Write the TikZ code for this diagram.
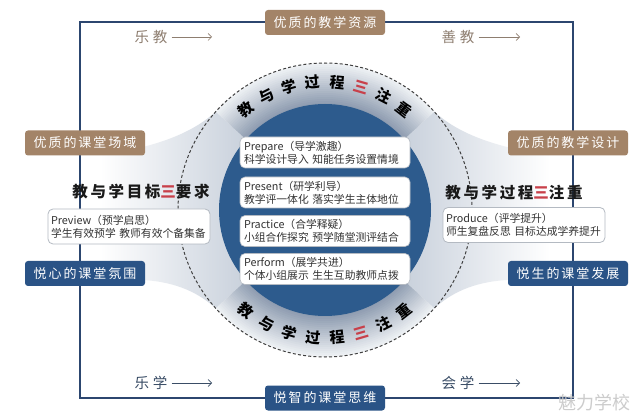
\documentclass[tikz,border=0pt]{standalone}
\usepackage{fontspec}
\setmainfont{Noto Sans CJK SC}
\newfontfamily\spfont[LetterSpace=15]{Noto Sans CJK SC}
\newfontfamily\ttlfont[LetterSpace=17]{Noto Sans CJK SC}
\newfontfamily\arrfont[LetterSpace=25]{Noto Sans CJK SC}
\usetikzlibrary{arrows.meta}
\definecolor{brownbox}{HTML}{A38468}
\definecolor{navybox}{HTML}{2A5386}
\definecolor{framec}{HTML}{2C466F}
\definecolor{bluec}{HTML}{2D5B8D}
\definecolor{tred}{HTML}{C8404A}
\definecolor{arrtop}{HTML}{8E7E70}
\definecolor{arrbot}{HTML}{3A4D66}
\definecolor{bandin}{HTML}{8E9CB0}
\definecolor{bandout}{HTML}{EEF1F4}
\definecolor{fanc}{HTML}{C9D1DC}
\definecolor{boxborder}{HTML}{B4BAC2}
\tikzset{
  labbox/.style={rounded corners=3pt, minimum width=120pt, minimum height=25pt, inner sep=0pt,
     text=white, font=\fontsize{13}{13}\selectfont\spfont},
  brownlab/.style={labbox, fill=brownbox},
  navylab/.style={labbox, fill=navybox},
  stepbox/.style={rounded corners=5pt, fill=white, draw=boxborder, line width=0.6pt,
     minimum width=170pt, minimum height=31pt, text width=162pt, align=left, inner sep=2.5pt,
     font=\fontsize{10.8}{13}\selectfont, text=black!80},
  sidebox/.style={stepbox, minimum width=162pt, text width=156pt, minimum height=35pt, line width=0.8pt},
  arcch/.style={font=\fontsize{15}{15}\selectfont\bfseries, text=black, inner sep=0pt},
  ttl/.style={font=\fontsize{15.5}{16}\selectfont\bfseries\ttlfont, text=black!90, inner sep=0pt},
  arrlab/.style={font=\fontsize{14.5}{15}\selectfont\arrfont, inner sep=0pt},
  arr/.style={line width=0.7pt, -{Straight Barb[length=3.5pt,width=7pt]}},
}
\begin{document}
\begin{tikzpicture}[x=1pt,y=1pt]
\useasboundingbox (0,0) rectangle (640,418);
\fill[white] (0,0) rectangle (640,418);
\coordinate (c) at (325,208);

% outer frame
\draw[framec, line width=2.8pt] (80,20) rectangle (573,396);

% light fans
\shade[left color=white, right color=fanc] (100,270) -- (143,271) .. controls (178,280) and (200,292) .. (215.8,306.4)
   -- (245,306.4) -- (245,109.6) -- (215.8,109.6) .. controls (200,124) and (178,136) .. (143,138) -- (100,138) -- cycle;
\shade[right color=white, left color=fanc] (550,270) -- (507,271) .. controls (472,280) and (450,292) .. (434.2,306.4)
   -- (405,306.4) -- (405,109.6) -- (434.2,109.6) .. controls (450,124) and (472,136) .. (507,138) -- (550,138) -- cycle;

% gray bands
\foreach \i in {0,...,20} {
  \pgfmathsetmacro\rr{147-\i*2}
  \pgfmathtruncatemacro\pp{\i*5}
  \fill[bandin!\pp!bandout] (c) -- ([shift={(42:\rr)}]c) arc[start angle=42,end angle=138,radius=\rr] -- cycle;
  \fill[bandin!\pp!bandout] (c) -- ([shift={(222:\rr)}]c) arc[start angle=222,end angle=318,radius=\rr] -- cycle;
}

% blue disc
\fill[bluec] (c) circle[radius=106];

% dashed circle
\draw[black!75, line width=1pt, dash pattern=on 3pt off 2.2pt] (c) circle[radius=147];

% arc texts
\foreach \ch [count=\k from 0] in {教,与,学,过,程,\textcolor{tred}{三},注,重} {
  \pgfmathsetmacro\ang{128-\k*76/7}
  \node[arcch, rotate=\ang-90] (tt\k) at ([shift={(\ang:128)}]c) {\ch};
}
\foreach \ch [count=\k from 0] in {教,与,学,过,程,\textcolor{tred}{三},注,重} {
  \pgfmathsetmacro\ang{232+\k*76/7}
  \node[arcch, rotate=\ang+90] (tb\k) at ([shift={(\ang:128)}]c) {\ch};
}

% center step boxes
\node[stepbox] (s1) at (325,265.5) {Prepare（导学激趣）\\科学设计导入 知能任务设置情境};
\node[stepbox] (s2) at (325,225.5) {Present（研学利导）\\教学评一体化 落实学生主体地位};
\node[stepbox] (s3) at (325,187) {Practice（合学释疑）\\小组合作探究 预学随堂测评结合};
\node[stepbox] (s4) at (325,149) {Perform（展学共进）\\个体小组展示 生生互助教师点拨};

% side titles and boxes
\node[ttl] (lt) at (141,226) {教与学目标\textcolor{tred}{三}要求};
\node[ttl] (rt) at (514,225) {教与学过程\textcolor{tred}{三}注重};
\node[sidebox] (pv) at (129,191.5) {Preview（预学启思）\\学生有效预学 教师有效个备集备};
\node[sidebox] (pd) at (524,193) {Produce（评学提升）\\师生复盘反思 目标达成学养提升};

% label boxes
\node[brownlab] (b1) at (325,395.5) {优质的教学资源};
\node[navylab] (b2) at (325,20) {悦智的课堂思维};
\node[brownlab] (b3) at (85,275) {优质的课堂场域};
\node[navylab] (b4) at (85,144.5) {悦心的课堂氛围};
\node[brownlab] (b5) at (568,275) {优质的教学设计};
\node[navylab] (b6) at (568,144.5) {悦生的课堂发展};

% arrow labels
\node[arrlab, text=arrtop] (l1) at (151,381) {乐教};
\node[arrlab, text=arrtop] (l2) at (458,381) {善教};
\node[arrlab, text=arrbot] (l3) at (151,35) {乐学};
\node[arrlab, text=arrbot] (l4) at (458,35) {会学};
\coordinate (e1) at (212,381);
\coordinate (e2) at (520,381);
\coordinate (e3) at (212,35);
\coordinate (e4) at (520,35);
\draw[arr, arrtop] ([xshift=4pt]l1.east) -- (e1);
\draw[arr, arrtop] ([xshift=4pt]l2.east) -- (e2);
\draw[arr, arrbot] ([xshift=4pt]l3.east) -- (e3);
\draw[arr, arrbot] ([xshift=4pt]l4.east) -- (e4);

% watermark
\node[font=\fontsize{18}{18}\selectfont, text=gray!40, inner sep=0pt] (wm) at (594,15) {魅力学校};
\end{tikzpicture}
\end{document}
